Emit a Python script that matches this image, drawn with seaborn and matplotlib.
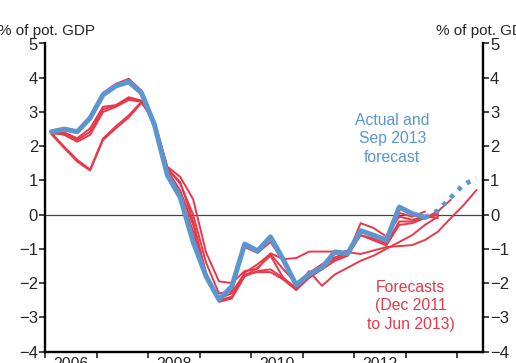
import numpy as np
import pandas as pd
import matplotlib
matplotlib.use("Agg")
import matplotlib.pyplot as plt
import seaborn as sns

# Output gap, % of potential GDP, quarterly from 2006 Q1
start_year = 2006
year_labels = ["2006", "2008", "2010", "2012"]
y_ticks = [-4, -3, -2, -1, 0, 1, 2, 3, 4, 5]

# Actual estimate (solid) and Sep 2013 forecast (dotted)
actual = [2.42, 2.50, 2.42, 2.82, 3.50, 3.76, 3.88, 3.55, 2.62, 1.15,
          0.50, -0.80, -1.80, -2.48, -2.10, -0.86, -1.06, -0.65, -1.32, -2.06,
          -1.74, -1.55, -1.09, -1.14, -0.47, -0.60, -0.75, 0.22, 0.03, -0.08]
sep2013_forecast = [-0.08, 0.12, 0.50, 0.88, 1.06]

# Earlier forecast vintages (Dec 2011 to Jun 2013)
fc_dec2011 = [2.35, 1.94, 1.55, 1.29, 2.18, 2.52, 2.84, 3.27, 2.72, 1.40,
              1.10, 0.45, -1.10, -1.95, -2.00, -1.65, -1.58, -1.13, -1.30, -1.27,
              -1.08, -1.08, -1.08, -1.10, -1.15, -1.05, -0.95, -0.92, -0.89, -0.74,
              -0.50, -0.10, 0.28, 0.72]
fc_mar2012 = [2.38, 1.98, 1.60, 1.32, 2.22, 2.58, 2.90, 3.30, 2.70, 1.35,
              0.90, 0.00, -1.40, -2.30, -2.25, -1.80, -1.65, -1.60, -1.85, -2.15,
              -1.65, -2.08, -1.75, -1.55, -1.35, -1.20, -1.00, -0.80, -0.60, -0.30,
              -0.06]
fc_jun2012 = [2.40, 2.33, 2.13, 2.33, 3.00, 3.15, 3.35, 3.30, 2.70, 1.30,
              0.70, -0.30, -1.75, -2.50, -2.40, -1.75, -1.68, -1.68, -1.90, -2.20,
              -1.85, -1.60, -1.35, -1.20, -0.60, -0.75, -0.90, -0.30, -0.25, -0.10,
              0.10, 0.43]
fc_sep2012 = [2.38, 2.40, 2.23, 2.52, 3.15, 3.20, 3.43, 3.33, 2.72, 1.35,
              0.95, -0.20, -1.70, -2.55, -2.45, -1.80, -1.55, -1.20, -1.85, -2.20,
              -1.75, -1.50, -1.30, -1.15, -0.25, -0.39, -0.64, -0.06, -0.15, -0.06,
              -0.10]
fc_dec2012 = [2.36, 2.38, 2.18, 2.42, 3.08, 3.18, 3.40, 3.32, 2.70, 1.25,
              0.60, -0.50, -1.85, -2.45, -2.30, -1.70, -1.45, -1.15, -1.60, -2.00,
              -1.70, -1.45, -1.25, -1.10, -0.60, -0.70, -0.85, -0.20, -0.20, -0.10,
              0.00]
fc_mar2013 = [2.45, 2.53, 2.45, 2.86, 3.56, 3.82, 3.97, 3.62, 2.68, 1.20,
              0.55, -0.75, -1.85, -2.45, -2.20, -0.95, -1.12, -0.80, -1.35, -2.05,
              -1.80, -1.50, -1.15, -1.05, -0.50, -0.60, -0.70, 0.05, -0.06, 0.09]
fc_jun2013 = [2.42, 2.50, 2.42, 2.84, 3.53, 3.80, 3.95, 3.60, 2.65, 1.18,
              0.52, -0.78, -1.82, -2.50, -2.12, -0.90, -1.08, -0.68, -1.36, -2.10,
              -1.78, -1.58, -1.12, -1.17, -0.48, -0.62, -0.77, 0.18, 0.00, -0.12,
              0.02]

forecasts = [fc_dec2011, fc_mar2012, fc_jun2012, fc_sep2012,
             fc_dec2012, fc_mar2013, fc_jun2013]


def quarter_x(n, offset=0):
    """Mid-quarter positions in fractional years."""
    return start_year + (np.arange(offset, offset + n) + 0.5) / 4


RED = "#e8384a"
BLUE = "#5b96cf"

sns.set_style("ticks")
plt.rcParams["font.family"] = ["Liberation Sans", "DejaVu Sans"]
plt.rcParams["font.size"] = 11

fig = plt.figure(figsize=(5.16, 3.63), dpi=100)
ax = fig.add_axes([45 / 516, 1 - 351.5 / 363, 438 / 516, 308 / 363])

for series in forecasts:
    sns.lineplot(x=quarter_x(len(series)), y=series, ax=ax, color=RED,
                 lw=1.4, zorder=3)

sns.lineplot(x=quarter_x(len(actual)), y=actual, ax=ax, color=BLUE,
             lw=3.6, zorder=4)
sns.lineplot(x=quarter_x(len(sep2013_forecast), len(actual) - 1),
             y=sep2013_forecast, ax=ax, color=BLUE, lw=3.4,
             linestyle=(0, (0.9, 1.4)), zorder=4)

ax.axhline(0, color="#444444", lw=0.9, zorder=2)

ax.set_xlim(2006, 2014.5)
ax.set_ylim(-4, 5)
ax.set_yticks(y_ticks)
ax.set_yticklabels([f"{v}".replace("-", "\u2212") for v in y_ticks])

# Year boundaries carry tick marks; labels sit mid-year
ax.set_xticks(np.arange(2006, 2015))
ax.set_xticklabels([])
ax.set_xticks([int(y) + 0.5 for y in year_labels], minor=True)
ax.set_xticklabels(year_labels, minor=True)
ax.tick_params(axis="x", which="major", length=4, width=1.2, direction="out")
ax.tick_params(axis="x", which="minor", length=0, pad=4, labelsize=11.5)
ax.tick_params(axis="y", length=4, width=1.2, direction="out", pad=1,
               labelsize=12, left=True, right=True,
               labelleft=True, labelright=True)

for side in ["left", "right", "bottom"]:
    ax.spines[side].set_linewidth(1.7)
    ax.spines[side].set_color("black")
ax.spines["top"].set_visible(False)
ax.set_xlabel("")
ax.set_ylabel("")

fig.text(46 / 516, 1 - 30.5 / 363, "% of pot. GDP", ha="center", va="center",
         fontsize=11)
fig.text(484 / 516, 1 - 30.5 / 363, "% of pot. GDP", ha="center", va="center",
         fontsize=11)

ax.text(2012.74, 2.21, "Actual and\nSep 2013\nforecast", color=BLUE,
        ha="center", va="center", fontsize=11.3, linespacing=1.3)
ax.text(2013.1, -2.67, "Forecasts\n(Dec 2011\nto Jun 2013)", color=RED,
        ha="center", va="center", fontsize=11.3, linespacing=1.33)

fig.savefig("out.png", dpi=100)
